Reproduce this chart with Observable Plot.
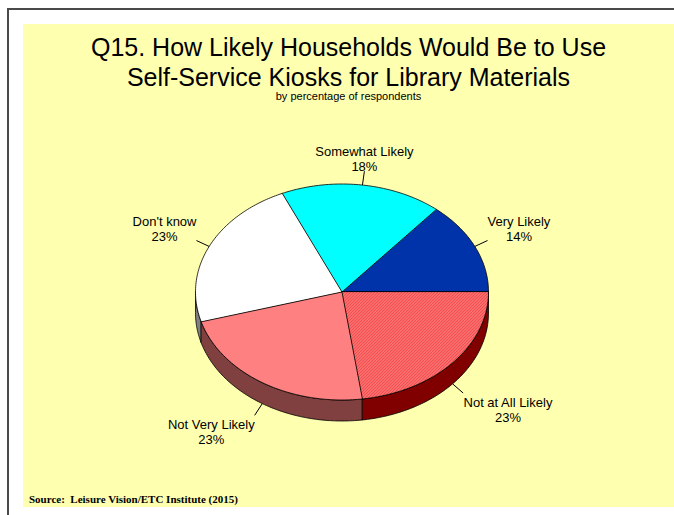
<!DOCTYPE html>
<html><head><meta charset="utf-8">
<script src="https://cdn.jsdelivr.net/npm/d3@7"></script>
<script src="https://cdn.jsdelivr.net/npm/@observablehq/plot@0.6"></script>
<style>
body{margin:0;background:#fff;}
#wrap{position:relative;width:674px;height:515px;overflow:hidden;font-family:"Liberation Sans",Arial,sans-serif;}
#frameL{position:absolute;left:7px;top:8px;width:2px;height:507px;background:#4a4a4a;}
#frameT{position:absolute;left:7px;top:8px;width:667px;height:2px;background:#4a4a4a;}
#panel{position:absolute;left:23px;top:24px;width:651px;height:483px;background:#FFFFB0;}
.t{position:absolute;left:23px;width:651px;text-align:center;color:#000;white-space:nowrap;}
#title{top:32px;font-size:25px;line-height:30px;}
#sub{top:90px;font-size:11px;line-height:12px;}
#src{position:absolute;left:29px;top:493px;font-family:"Liberation Serif","Times New Roman",serif;font-weight:bold;font-size:11px;line-height:12px;white-space:nowrap;}
#chart{position:absolute;left:0;top:0;}
</style></head>
<body>
<div id="wrap">
  <div id="frameL"></div><div id="frameT"></div>
  <div id="panel"></div>
  <div id="title" class="t">Q15. How Likely Households Would Be to Use<br>Self-Service Kiosks for Library Materials</div>
  <div id="sub" class="t">by percentage of respondents</div>
  <div id="chart"></div>
  <div id="src">Source:&nbsp; Leisure Vision/ETC Institute (2015)</div>
</div>
<script>
const categories = ["Very Likely", "Somewhat Likely", "Don't know", "Not Very Likely", "Not at All Likely"];
const percents = [14, 18, 23, 23, 23];
const topColors = ["#0033AA", "#00FFFF", "#FFFFFF", "#FF8080", "url(#hatch)"];
const sideColors = ["#001A55", "#008080", "#808080", "#804040", "#800000"];

const W = 674, H = 515;
const CX = 341.5, CY = 291.5, RX = 146.5;
const TILT = 108 / RX, DEPTH = 21 / RX, LEAD = 14 / RX;
const FONT = "13px 'Liberation Sans', Arial, sans-serif";

const total = d3.sum(percents);
let acc = 0;
const slices = categories.map((c, i) => {
  const a0 = acc / total * 2 * Math.PI;
  acc += percents[i];
  const a1 = acc / total * 2 * Math.PI;
  return {c, v: percents[i], a0, a1, i};
});
const pt = (a, dz = 0) => ({x: Math.cos(a), y: TILT * Math.sin(a) - dz});
function arcPts(a0, a1, dz) {
  const n = Math.max(2, Math.ceil((a1 - a0) / (Math.PI / 180)));
  return d3.range(n + 1).map(k => pt(a0 + (a1 - a0) * k / n, dz));
}

const ctx = document.createElement("canvas").getContext("2d");
ctx.font = FONT;

const marks = [];
// side faces (front half only)
slices.forEach(s => {
  const s0 = Math.max(s.a0, Math.PI), s1 = Math.min(s.a1, 2 * Math.PI);
  if (s1 > s0) {
    const poly = [...arcPts(s0, s1, 0), ...arcPts(s0, s1, DEPTH).reverse()];
    marks.push(Plot.line(poly, {x: "x", y: "y", curve: "linear-closed", fill: sideColors[s.i], stroke: "#000", strokeWidth: 0.8}));
  }
});
// top faces
slices.forEach(s => {
  const poly = [{x: 0, y: 0}, ...arcPts(s.a0, s.a1, 0)];
  marks.push(Plot.line(poly, {x: "x", y: "y", curve: "linear-closed", fill: topColors[s.i], stroke: "#000", strokeWidth: 0.8}));
});
// labels + leader lines
const labels = slices.map(s => {
  const m = (s.a0 + s.a1) / 2, c = Math.cos(m), sn = Math.sin(m);
  const st = pt(m, sn < 0 ? DEPTH : 0);
  const text = `${s.c}\n${s.v}%`;
  const bw = Math.max(...text.split("\n").map(l => ctx.measureText(l).width)) / RX;
  const x2 = st.x + LEAD * c, y2 = st.y + LEAD * sn;
  const shift = c > 0.3 ? bw / 2 : c < -0.3 ? -bw / 2 : 0;
  return {x1: st.x, y1: st.y, x2, y2, tx: x2 + shift, text, va: sn >= 0 ? "bottom" : "top"};
});
marks.push(Plot.link(labels, {x1: "x1", y1: "y1", x2: "x2", y2: "y2", stroke: "#000", strokeWidth: 1}));
for (const va of ["top", "bottom"]) {
  const sub = labels.filter(d => d.va === va);
  if (!sub.length) continue;
  marks.push(Plot.text(sub, {x: "tx", y: "y2", text: "text", textAnchor: "middle", lineAnchor: va,
    dy: va === "top" ? 3 : 0, fontSize: 13, lineHeight: 1.15, fill: "#000"}));
}

const svg = Plot.plot({
  width: W, height: H,
  margin: 0,
  x: {domain: [-CX / RX, (W - CX) / RX], axis: null},
  y: {domain: [-(H - CY) / RX, CY / RX], axis: null},
  style: {background: "transparent", overflow: "visible", fontFamily: "'Liberation Sans', Arial, sans-serif"},
  marks
});
const defs = d3.select(svg).insert("defs", ":first-child");
const pat = defs.append("pattern").attr("id", "hatch").attr("patternUnits", "userSpaceOnUse")
  .attr("width", 3).attr("height", 3);
pat.append("rect").attr("width", 3).attr("height", 3).attr("fill", "#FFC8C8");
pat.append("path").attr("d", "M-1,1 l2,-2 M0,3 l3,-3 M2,4 l2,-2").attr("stroke", "#F00000").attr("stroke-width", 1.1);
document.getElementById("chart").appendChild(svg);
</script>
</body></html>
